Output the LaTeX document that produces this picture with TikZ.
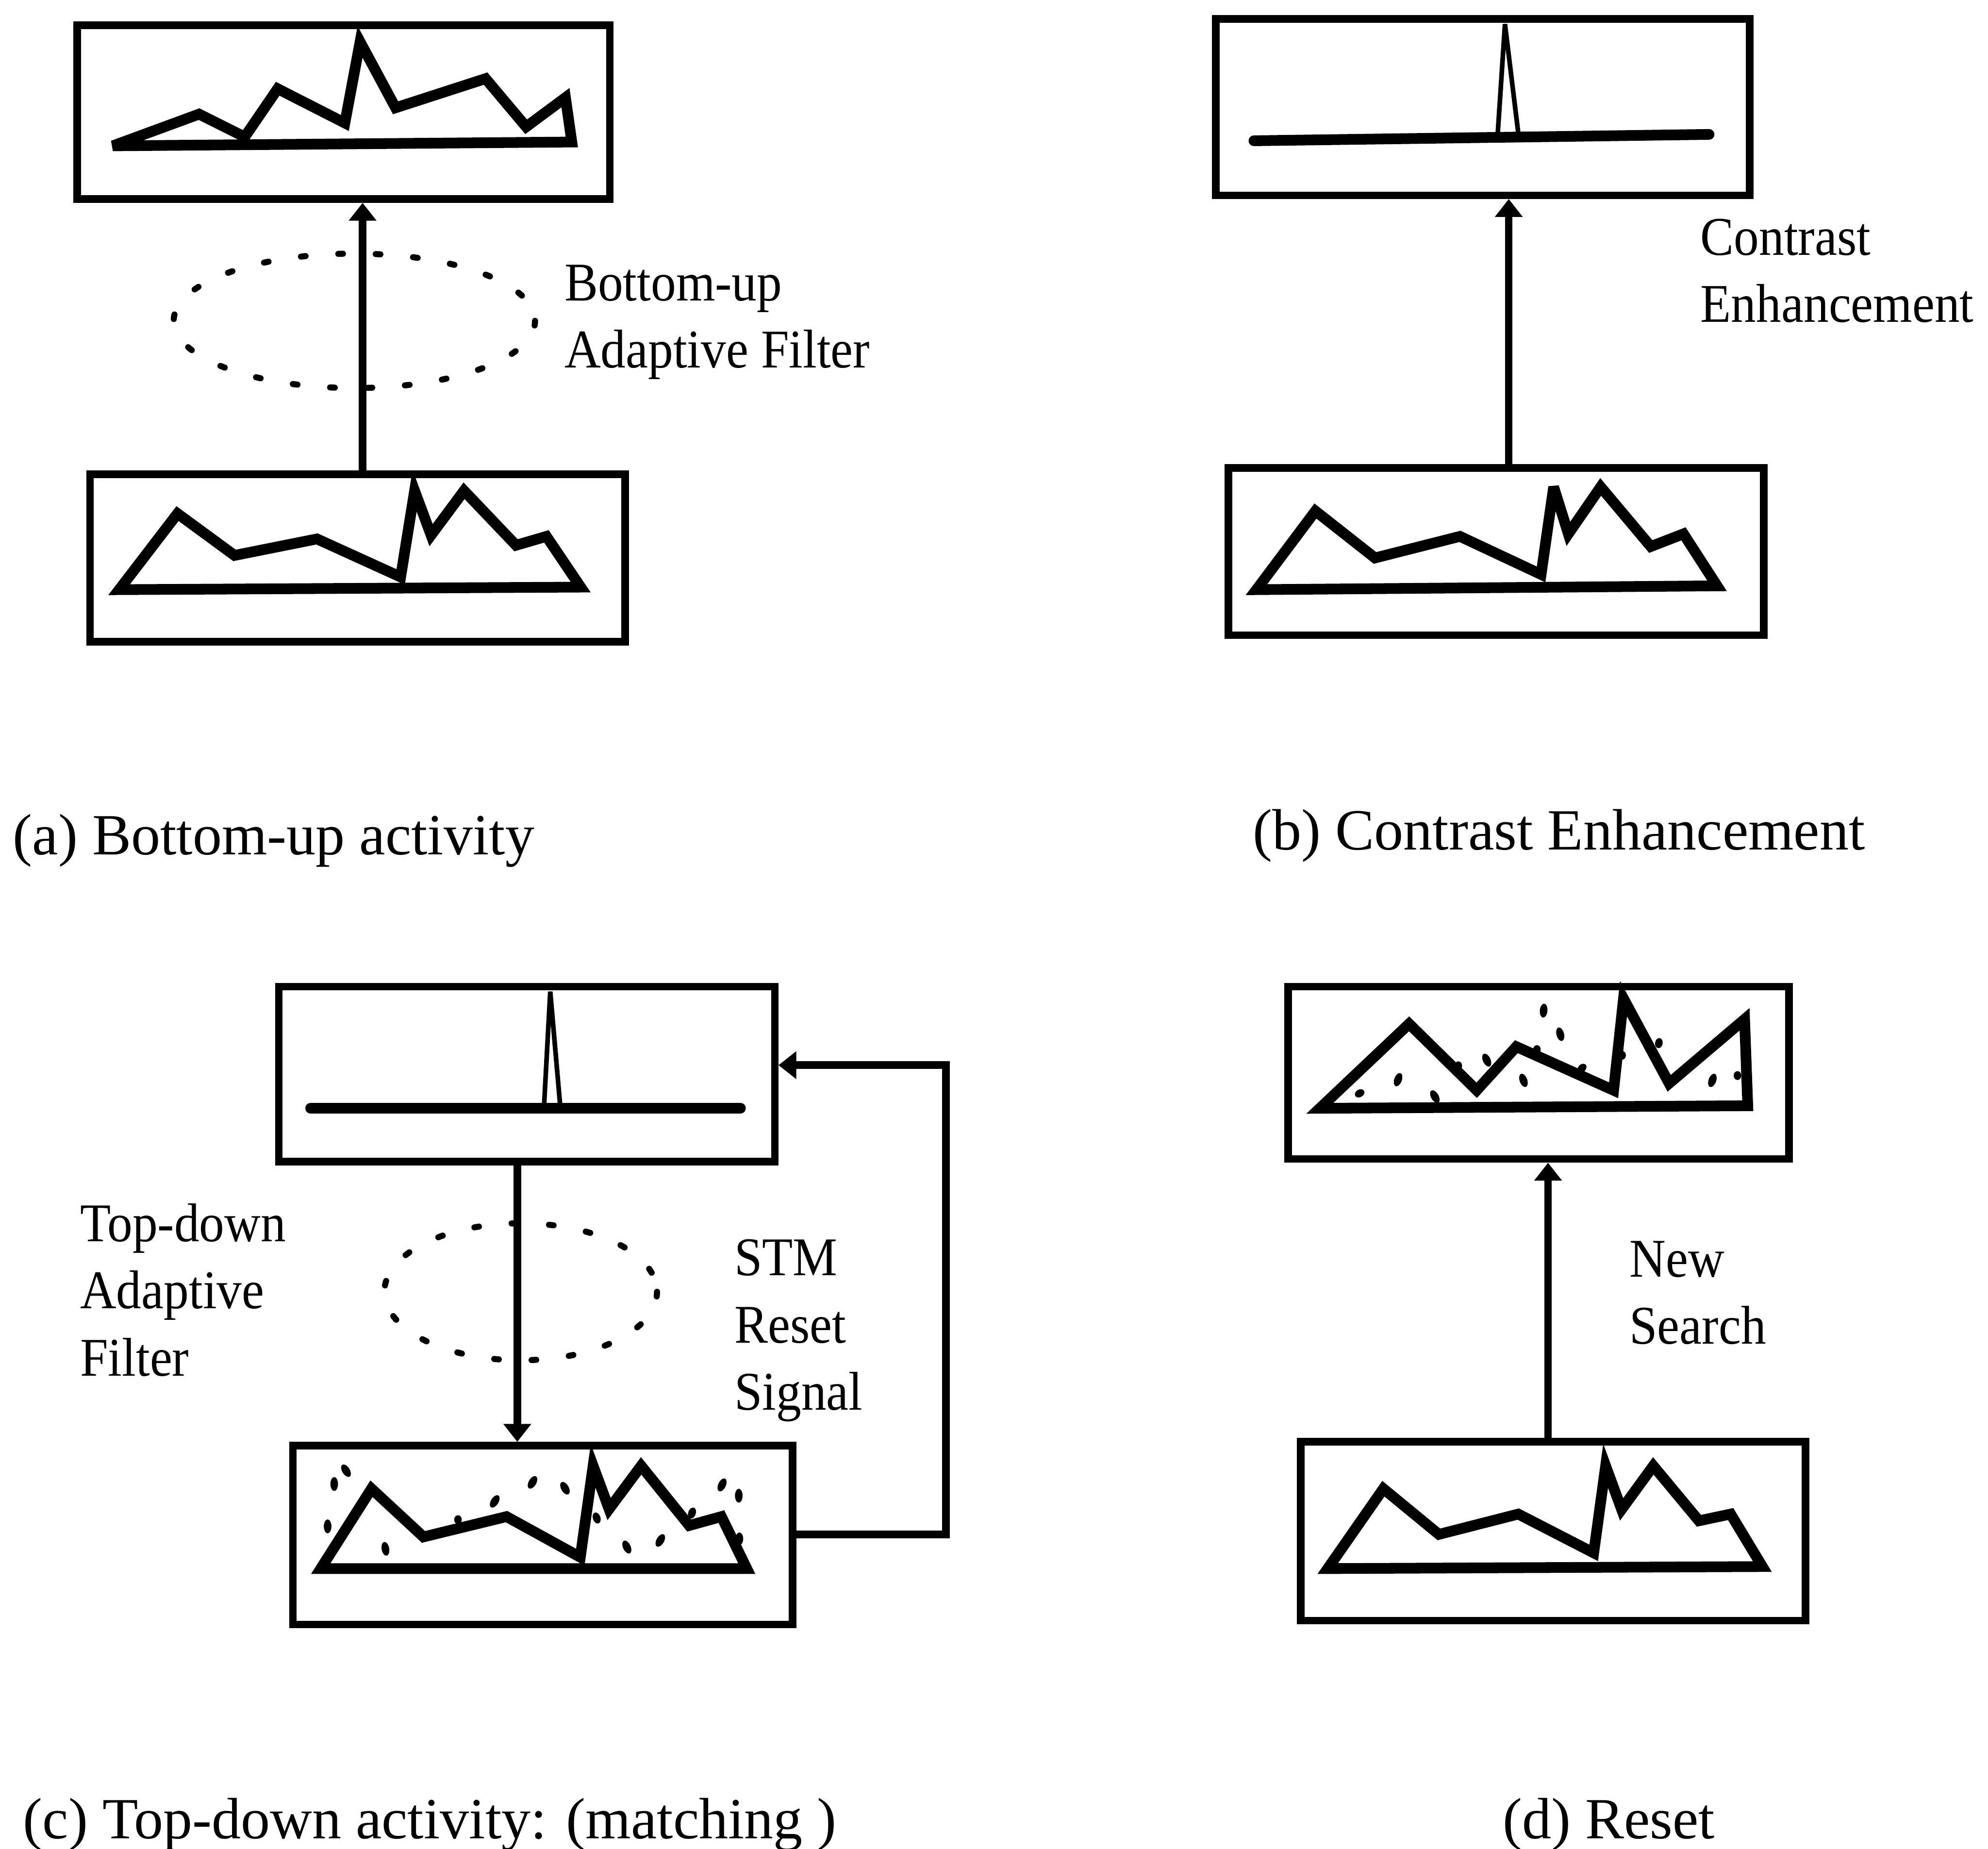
\documentclass[tikz,border=0pt]{standalone}
\usepackage{fontspec}
\setmainfont{Liberation Serif}
\newfontfamily\condfont[FakeStretch=0.92]{Liberation Serif}
\usetikzlibrary{arrows.meta}
\begin{document}
\begin{tikzpicture}[x=0.025cm, y=-0.025cm,
  panel/.style={draw, line width=4.2pt, inner sep=0pt, rectangle},
  sig/.style={line width=6pt, line join=miter, miter limit=4.5},
  spikeline/.style={line width=2.6pt},
  flow/.style={line width=4.3pt, -{Triangle[length=10pt,width=15pt]}},
  lab/.style={anchor=base west, inner sep=0pt, align=left, font=\condfont\fontsize{30.6}{37.7}\selectfont},
  capt/.style={anchor=base west, inner sep=0pt, font=\fontsize{32.7}{40}\selectfont},
  dotring/.style={line width=3.4pt, dash pattern=on 2.6pt off 18.4pt, line cap=round},
  speck/.style={fill=black}]
\useasboundingbox (0,0) rectangle (1568,1458);

% ---------- boxes ----------
\node[panel, minimum width=10.5cm,  minimum height=3.425cm] (aT) at (271,88.5) {};
\node[panel, minimum width=10.55cm, minimum height=3.3cm]   (aB) at (282,440) {};
\node[panel, minimum width=10.525cm,minimum height=3.475cm] (bT) at (1169.5,84.5) {};
\node[panel, minimum width=10.55cm, minimum height=3.3cm]   (bB) at (1180,435) {};
\node[panel, minimum width=9.775cm, minimum height=3.45cm]  (cT) at (415.5,847) {};
\node[panel, minimum width=9.85cm,  minimum height=3.525cm] (cB) at (428,1210.5) {};
\node[panel, minimum width=9.875cm, minimum height=3.4cm]   (dT) at (1213.5,846) {};
\node[panel, minimum width=9.95cm,  minimum height=3.525cm] (dB) at (1225,1207.5) {};

% ---------- activity profiles ----------
% (a)
\draw[sig] (89,115) -- (157,90) -- (193,108) -- (219,70) -- (272,97) -- (284,33) -- (312,85) -- (383,62) -- (415,100) -- (446,77) -- (451,112) -- cycle;
\draw[sig] (94,465) -- (140,405) -- (185,438) -- (250,425) -- (316,455) -- (327,387) -- (340,422) -- (366,387) -- (407,430) -- (431,423) -- (458,463) -- cycle;
% (b)
\draw[sig, line cap=round] (989,111) -- (1348,106);
\draw[spikeline] (1181,110) -- (1187,19) -- (1198,109);
\draw[sig] (991,465) -- (1037.5,403) -- (1084.5,440) -- (1151.5,423) -- (1215.5,453) -- (1225.4,384) -- (1237,421) -- (1262.5,384) -- (1302,431) -- (1327.8,421) -- (1354.3,462) -- cycle;
% (c)
\draw[sig, line cap=round] (245,874) -- (584,874);
\draw[spikeline] (429,874) -- (434,782) -- (442,874);
\draw[sig] (253,1237) -- (293,1174) -- (334,1212) -- (399.5,1196) -- (457.7,1228) -- (467.8,1156) -- (480.4,1190) -- (505.7,1156) -- (543.6,1203) -- (569,1196) -- (589,1237) -- cycle;
% (d)
\draw[sig] (1041,874) -- (1111.4,807.4) -- (1164.7,859.8) -- (1196,825.4) -- (1272.7,859.8) -- (1280.5,787.5) -- (1316.5,854.3) -- (1376,803.8) -- (1378.5,872) -- cycle;
\draw[sig] (1047.2,1237) -- (1091.1,1174) -- (1134.9,1210) -- (1197.5,1194) -- (1257,1224.6) -- (1266.4,1156) -- (1279,1190.3) -- (1304,1156) -- (1340,1199.3) -- (1365,1194) -- (1390,1235.4) -- cycle;

% ---------- dotted expectation specks ----------
\foreach \x/\y/\a/\r in {272.9/1159.8/-58/5.5, 263.6/1170.3/90/5.5, 258.4/1203.7/90/5.5,
  304/1221.4/-80/5.5, 361.2/1198.4/90/3.5, 390.2/1184/58/5.5, 420/1169/60/5.5,
  445.6/1173.6/-60/5.5, 470.6/1197.1/-70/4.5, 494.4/1220/-65/5.5, 520.8/1214.8/60/5.5,
  545.8/1193.2/70/4.5, 569.5/1171/65/5.5, 582.7/1179.5/90/5.5, 583.2/1213.5/90/5}
  {\fill[speck, rotate around={\a:(\x,\y)}] (\x,\y) ellipse [x radius=\r, y radius=3];}
\foreach \x/\y/\a/\r in {1072.4/862.2/30/4, 1102.7/851.4/70/5.5, 1131.7/864.8/-60/5.5,
  1172.6/836/-65/5.5, 1150.2/840.5/90/3.5, 1201.6/852/-70/5.5, 1217.5/797/85/5.5,
  1230.6/815.6/-75/5.5, 1212.2/827.7/90/3.5, 1247.8/842.4/45/4, 1279.4/832.2/90/3.5,
  1308.4/822.6/80/4, 1350.6/852/70/5.5, 1370.4/848.2/90/3.5}
  {\fill[speck, rotate around={\a:(\x,\y)}] (\x,\y) ellipse [x radius=\r, y radius=3];}

% ---------- adaptive filter rings ----------
\draw[dotring] (279.5,253) ellipse [x radius=142.5, y radius=53];
\draw[dotring] (410.7,1018.7) ellipse [x radius=107.5, y radius=54];

% ---------- connectors ----------
\coordinate (ax) at (286,0);
\coordinate (bx) at (1190,0);
\coordinate (cx) at (408,0);
\coordinate (dx) at (1221,0);
\coordinate (fb1) at (746,1210);
\coordinate (fb2) at (746,840);
\draw[flow] (aB.north -| ax) -- (aT.south -| ax);
\draw[flow] (bB.north -| bx) -- (bT.south -| bx);
\draw[flow] (cT.south -| cx) -- (cB.north -| cx);
\draw[flow] (cB.east |- fb1) -- (fb1) -- (fb2) -- (cT.east |- fb2);
\draw[flow] (dB.north -| dx) -- (dT.south -| dx);

% ---------- labels (anchored at the baseline of the last line) ----------
\node[lab] (labA) at (445,290) {Bottom-up\\Adaptive Filter};
\node[lab] (labB) at (1341,254) {Contrast\\Enhancement};
\node[lab] (labC) at (63,1085) {Top-down\\Adaptive\\Filter};
\node[lab] (labR) at (579,1112) {STM\\Reset\\Signal};
\node[lab] (labD) at (1285,1060) {New\\Search};

% ---------- captions ----------
\node[capt] (capA) at (10,674) {(a) Bottom-up activity};
\node[capt] (capB) at (988,670) {(b) Contrast Enhancement};
\node[capt] (capC) at (18,1450) {(c) Top-down activity: (matching )};
\node[capt] (capD) at (1185,1450) {(d) Reset};
\end{tikzpicture}
\end{document}
